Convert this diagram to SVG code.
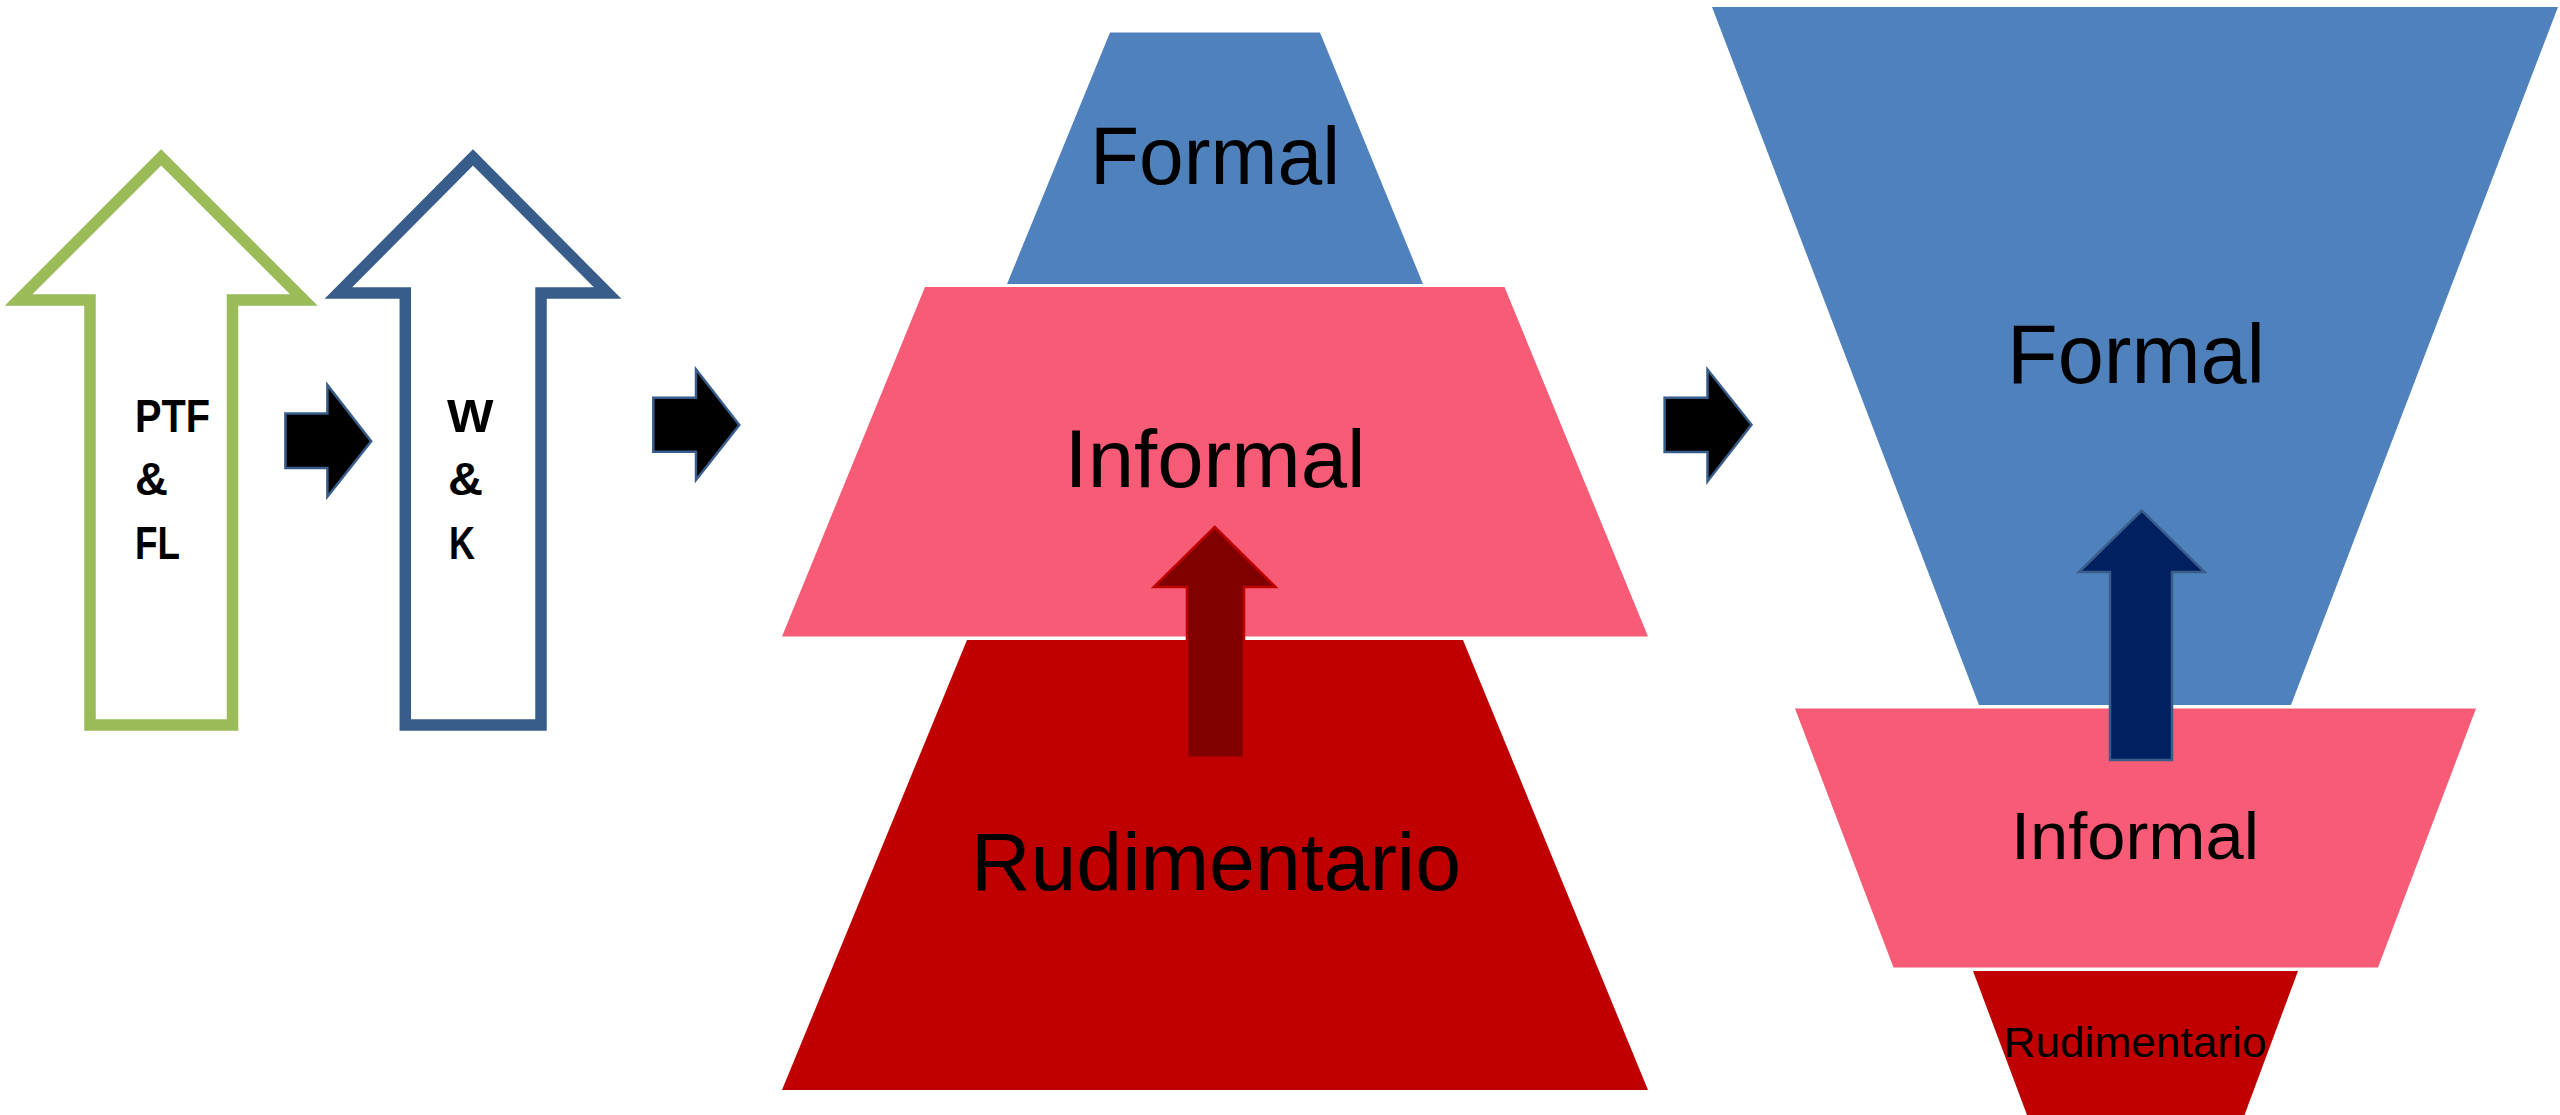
<svg xmlns="http://www.w3.org/2000/svg" width="2560" height="1115" viewBox="0 0 2560 1115">
<style>
.lbl{font-family:"Liberation Sans",Arial,sans-serif;fill:#000}
.bold{font-weight:bold;font-size:47px}
.big{font-size:82px;text-anchor:middle}
.blk{fill:#000;stroke:#385D8A;stroke-width:2.5;stroke-linejoin:miter}
.up{fill:#fff;stroke-width:11.5;stroke-linejoin:miter;stroke-miterlimit:10}
</style>
<rect width="2560" height="1115" fill="#fff"/>

<g id="arrow-ptf">
<path class="up" stroke="#9BBB59" d="M161.2,157.4 L18.6,300 L90,300 L90,725 L232.5,725 L232.5,300 L303.8,300 Z"/>
<text class="lbl bold" x="135" y="431.5" textLength="75" lengthAdjust="spacingAndGlyphs">PTF</text>
<text class="lbl bold" x="135" y="495" textLength="33" lengthAdjust="spacingAndGlyphs">&amp;</text>
<text class="lbl bold" x="135" y="558.5" textLength="45" lengthAdjust="spacingAndGlyphs">FL</text>
</g>

<g id="arrow-wk">
<path class="up" stroke="#385D8A" d="M473,157.4 L338.4,293 L405.3,293 L405.3,725 L541,725 L541,293 L607.6,293 Z"/>
<text class="lbl bold" x="447" y="431.5" textLength="46.5" lengthAdjust="spacingAndGlyphs">W</text>
<text class="lbl bold" x="448" y="495" textLength="35" lengthAdjust="spacingAndGlyphs">&amp;</text>
<text class="lbl bold" x="449" y="558.5" textLength="26" lengthAdjust="spacingAndGlyphs">K</text>
</g>

<g id="pyramid-formal">
<polygon fill="#4F81BD" points="1110,32.5 1320,32.5 1423,284 1007,284"/>
<text class="lbl big" x="1215" y="184" textLength="250" lengthAdjust="spacingAndGlyphs">Formal</text>
</g>
<g id="pyramid-informal">
<polygon fill="#F75B76" points="925,287 1504.5,287 1648,636.5 782,636.5"/>
<text class="lbl big" x="1215" y="487" textLength="301" lengthAdjust="spacingAndGlyphs">Informal</text>
</g>
<g id="pyramid-rudimentario">
<polygon fill="#C00000" points="967,640 1463,640 1648,1090 782,1090"/>
<text class="lbl big" x="1216" y="890" textLength="490" lengthAdjust="spacingAndGlyphs">Rudimentario</text>
</g>

<g id="funnel-formal">
<polygon fill="#4F81BD" points="1712,7 2558,7 2291,705 1979,705"/>
<text class="lbl" x="2136" y="383" style="font-size:84px;text-anchor:middle" textLength="258" lengthAdjust="spacingAndGlyphs">Formal</text>
</g>
<g id="funnel-informal">
<polygon fill="#F75B76" points="1795,708.5 2476,708.5 2378,967.5 1893.5,967.5"/>
<text class="lbl" x="2135" y="859" style="font-size:66px;text-anchor:middle" textLength="248" lengthAdjust="spacingAndGlyphs">Informal</text>
</g>
<g id="funnel-rudimentario">
<polygon fill="#C00000" points="1973,971 2298,971 2244.5,1115 2027,1115"/>
<text class="lbl" x="2135" y="1056.5" style="font-size:42px;text-anchor:middle" textLength="263" lengthAdjust="spacingAndGlyphs">Rudimentario</text>
</g>

<g id="connectors">
<path class="blk" d="M285.4,413.6 L327.4,413.6 L327.4,385 L371.2,441.2 L327.4,496.7 L327.4,468 L285.4,468 Z"/>
<path class="blk" d="M653.3,397.7 L696,397.7 L696,369.3 L739.3,425 L696,480 L696,451.7 L653.3,451.7 Z"/>
<path class="blk" d="M1664.6,397.8 L1707.5,397.8 L1707.5,369.5 L1751.5,424.7 L1707.5,481.4 L1707.5,452 L1664.6,452 Z"/>
<path fill="#800000" stroke="#C00000" stroke-width="2.5" d="M1214.7,527 L1275.5,587 L1244,587 L1244,757.7 L1187,757.7 L1187,587 L1153.8,587 Z"/>
<path fill="#002060" stroke="#385D8A" stroke-width="2.5" d="M2141.8,510.6 L2204.5,572 L2172,572 L2172,760 L2110,760 L2110,572 L2079,572 Z"/>
</g>
</svg>
